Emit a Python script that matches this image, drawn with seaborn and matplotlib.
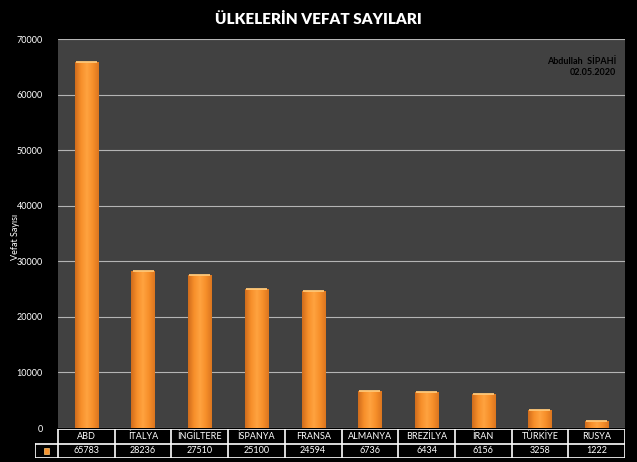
import numpy as np
import pandas as pd
import matplotlib
matplotlib.use("Agg")
import matplotlib.pyplot as plt
from matplotlib.colors import LinearSegmentedColormap
import seaborn as sns

ulkeler = ['ABD', 'İTALYA', 'İNGİLTERE', 'İSPANYA', 'FRANSA',
           'ALMANYA', 'BREZİLYA', 'İRAN', 'TÜRKİYE', 'RUSYA']
vefat = [65783, 28236, 27510, 25100, 24594, 6736, 6434, 6156, 3258, 1222]
y_ticks = [0, 10000, 20000, 30000, 40000, 50000, 60000, 70000]

df = pd.DataFrame({'Ulke': ulkeler, 'Vefat': vefat})

sns.set_style('dark')
plt.rcParams['font.family'] = ['Lato', 'DejaVu Sans']

fig = plt.figure(figsize=(6.37, 4.62), dpi=100, facecolor='black')
ax = fig.add_axes([58 / 637, 1 - 428 / 462, 567 / 637, 389 / 462])
ax.set_facecolor('#414141')

sns.barplot(data=df, x='Ulke', y='Vefat', ax=ax, color='#f7922e',
            width=0.41, saturation=1, zorder=3, linewidth=0, edgecolor='none')

# bar gradient (dark edges, bright centre)
cmap = LinearSegmentedColormap.from_list(
    'turuncu', ['#d06c1c', '#f78f2a', '#ffa340', '#f78f2a', '#dc761f'])
grad = np.linspace(0, 1, 64).reshape(1, -1)
for p in ax.patches:
    x0, y0 = p.get_x(), p.get_y()
    w, h = p.get_width(), p.get_height()
    im = ax.imshow(grad, cmap=cmap, aspect='auto', zorder=4,
                   extent=[x0, x0 + w, y0, y0 + h])
    im.set_clip_path(p)
    # light cap on top of the bar
    ax.plot([x0 + 0.02, x0 + w - 0.02], [y0 + h, y0 + h],
            color='#ffc878', lw=1.3, zorder=5, solid_capstyle='butt')

ax.set_xlim(-0.5, len(ulkeler) - 0.5)
ax.set_ylim(0, 70000)
ax.set_yticks(y_ticks)
ax.set_yticklabels([str(t) for t in y_ticks], color='white', fontsize=6.5)
ax.yaxis.grid(True, color='#b4b4b4', lw=0.8, zorder=1)
ax.xaxis.grid(False)
ax.set_xticks([])
ax.set_xlabel('')
ax.set_ylabel('Vefat Sayısı', color='white', fontsize=6.5)
ax.yaxis.set_label_coords(-38 / 567, 0.49)
ax.tick_params(axis='y', length=0, pad=11)
for s in ax.spines.values():
    s.set_visible(False)

fig.suptitle('ÜLKELERİN VEFAT SAYILARI', color='white', fontsize=11,
             fontweight='heavy', y=0.975)
ax.text(0.985, 0.955, 'Abdullah  SİPAHİ\n02.05.2020', transform=ax.transAxes,
        ha='right', va='top', color='black', fontsize=6.5, fontweight='bold',
        linespacing=1.3)

# data table below the chart
key_w = 23 / 56.7
tab = fig.add_axes([35 / 637, 1 - 458 / 462, 590 / 637, 29 / 462])
tab.set_xlim(-key_w, len(ulkeler))
tab.set_ylim(0, 2)
tab.axis('off')
n = len(ulkeler)
lc = dict(color='white', lw=1.2)
tab.plot([0, n], [2, 2], **lc)
tab.plot([-key_w, n], [1, 1], **lc)
tab.plot([-key_w, n], [0, 0], **lc)
tab.plot([-key_w, -key_w], [0, 1], **lc)
for i in range(n + 1):
    tab.plot([i, i], [0, 2], **lc)
for i, (u, v) in enumerate(zip(ulkeler, vefat)):
    tab.text(i + 0.5, 1.5, u, ha='center', va='center', color='white', fontsize=6.5)
    tab.text(i + 0.5, 0.5, str(v), ha='center', va='center', color='white', fontsize=6.5)
tab.add_patch(plt.Rectangle((-key_w / 2 - 0.05, 0.3), 0.1, 0.4,
                            facecolor='#f7922e', edgecolor='#ffc878', lw=0.5))

fig.savefig('out.png', dpi=100, facecolor='black')
